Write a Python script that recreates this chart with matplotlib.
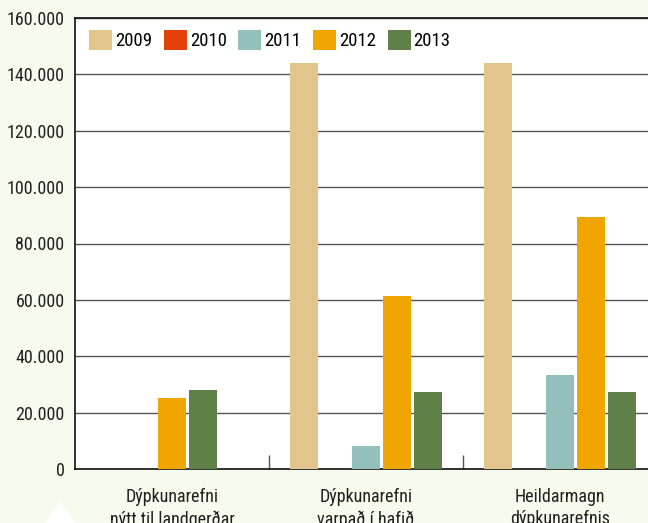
import matplotlib
matplotlib.use("Agg")
import matplotlib.pyplot as plt
from matplotlib import font_manager
from matplotlib.patches import Polygon, Patch
import numpy as np

categories = ["Dýpkunarefni\nnýtt til landgerðar", "Dýpkunarefni\nvarpað í hafið", "Heildarmagn\ndýpkunarefnis"]
years = ["2009", "2010", "2011", "2012", "2013"]
v2009 = [0, 144000, 144000]
v2010 = [0, 0, 0]
v2011 = [0, 8200, 33300]
v2012 = [25200, 61400, 89400]
v2013 = [28000, 27300, 27300]
series = [v2009, v2010, v2011, v2012, v2013]
colors = ["#E1C58C", "#E2420A", "#93C0BB", "#F0A500", "#5F8049"]
yticks = [0, 20000, 40000, 60000, 80000, 100000, 120000, 140000, 160000]

# pick a narrow / condensed sans if one is installed
chosen = None
prefs = ["Liberation Sans Narrow", "Roboto Condensed", "DejaVu Sans", "Roboto", "Open Sans", "Noto Sans"]
for pname in prefs:
    for f in font_manager.fontManager.ttflist:
        fn = f.fname.lower()
        if f.name == pname and ("narrow" in fn or "condensed" in fn or pname.endswith("Condensed")) and not any(
                k in fn for k in ["bold", "italic", "oblique", "light", "semi", "medium", "black", "thin"]):
            chosen = f
            break
    if chosen:
        break
if chosen is not None:
    plt.rcParams["font.family"] = [chosen.name, "DejaVu Sans"]
    plt.rcParams["font.stretch"] = chosen.stretch
    fs = 13
else:
    plt.rcParams["font.family"] = ["Liberation Sans", "DejaVu Sans"]
    fs = 11.5

bg = "#F7FBEE"
fig = plt.figure(figsize=(6.48, 5.23), dpi=100, facecolor=bg)
ax = fig.add_axes([75/648, 1-469/523, (657-75)/648, (469-18)/523])
ax.set_facecolor("white")

x = np.arange(len(categories))
slot = 0.16
bw = 0.145
group_shift = [-1, 0, 0]
for i, (vals, c) in enumerate(zip(series, colors)):
    pos = [x[k] + (i - 2 + group_shift[k]) * slot for k in range(len(x))]
    ax.bar(pos, vals, width=bw, color=c, zorder=3, label=years[i])

ax.set_xlim(-0.5, 2.5)
ax.set_ylim(0, 160000)
ax.set_yticks(yticks)
ax.set_yticklabels([f"{v:,}".replace(",", ".") for v in yticks], fontsize=fs, color="#231F20")
ax.yaxis.grid(True, color="#555555", lw=1.0, zorder=1)
ax.tick_params(axis="y", length=0, pad=7.5)
ax.set_xticks(x)
ax.set_xticklabels(categories, fontsize=fs, color="#231F20", linespacing=1.3)
ax.tick_params(axis="x", length=0, pad=13.5)
ax.set_xticks([0.5, 1.5], minor=True)
ax.tick_params(axis="x", which="minor", direction="in", length=10, width=1, color="#555555")

for s in ["left", "top", "bottom"]:
    ax.spines[s].set_color("#111111")
    ax.spines[s].set_linewidth(1.2)
ax.spines["right"].set_visible(False)

handles = [Patch(facecolor=c) for c in colors]
fpx = (fs + 0.5) * 100 / 72
ax.legend(handles, years, loc="upper left", bbox_to_anchor=(14/582, 1-12/451), ncol=5, frameon=False,
          fontsize=fs + 0.5, handlelength=23/fpx, handleheight=23/fpx, handletextpad=3/fpx,
          columnspacing=0.62, borderaxespad=0, borderpad=0)

tri = Polygon([[45/648, 0], [75/648, 0], [60/648, 22/523]], closed=True, transform=fig.transFigure,
              facecolor="white", edgecolor="none")
fig.patches.append(tri)

fig.savefig("out.png", dpi=100, facecolor=bg)
